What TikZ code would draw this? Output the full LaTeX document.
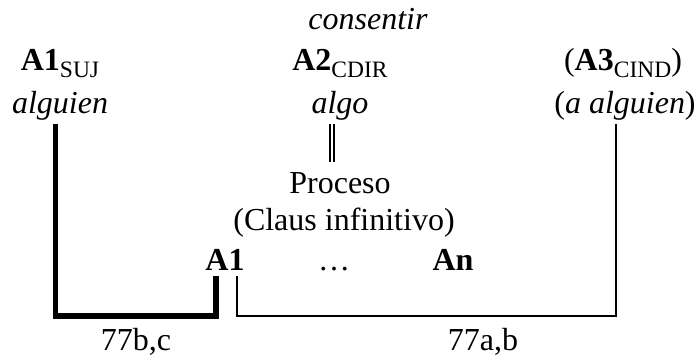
\documentclass[tikz,border=0pt]{standalone}
\usepackage{fontspec}
\setmainfont{Liberation Serif}
% subscript label set in regular weight below the baseline
\newcommand\argsub[1]{\raisebox{-7.5pt}{\fontsize{23.5}{24}\selectfont\mdseries #1}}
\tikzset{
  lbl/.style={anchor=base, inner sep=0pt, outer sep=0pt, font=\fontsize{32}{38}\selectfont},
  heavy/.style={line width=5.2pt, line cap=butt, line join=miter},
  light/.style={line width=2pt, line join=miter},
  thinrule/.style={line width=1.1pt}
}
\begin{document}
\begin{tikzpicture}[x=1pt, y=-1pt]
\useasboundingbox (0,0) rectangle (697,356);
% verb
\node[lbl] (verb) at (368,29) {\itshape consentir};
% arguments
\node[lbl] (a1) at (60,70) {\textbf{A1}\argsub{SUJ}};
\node[lbl] (a2) at (340,70) {\textbf{A2}\argsub{CDIR}};
\node[lbl] (a3) at (623,70) {(\textbf{A3}\argsub{CIND})};
\node[lbl] (g1) at (60,113) {\itshape alguien};
\node[lbl] (g2) at (340,113) {\itshape algo};
\node[lbl] (g3) at (625,113) {(\textit{a alguien})};
% embedded process
\node[lbl] (proc) at (340,193) {Proceso};
\node[lbl] (claus) at (344,230) {(Claus infinitivo)};
\node[lbl] (b1) at (225,270) {\textbf{A1}};
\node[lbl] (dots) at (334,270) {\dots};
\node[lbl] (bn) at (453,270) {\textbf{An}};
% example references
\node[lbl] (r1) at (136,350) {77b,c};
\node[lbl] (r2) at (483,350) {77a,b};
% line ends
\coordinate (low) at (0,316);
\coordinate (g1d) at ([shift={(-4.5,4)}]g1.south);
\coordinate (g3d) at ([shift={(-9,4)}]g3.south);
\coordinate (b1l) at ([shift={(-9,6)}]b1.south);
\coordinate (b1r) at ([shift={(12,6)}]b1.south);
% A2 linked to the process by a double rule
\draw[thinrule] ([shift={(-10,4)}]g2.south) -- ([shift={(-10,-10)}]proc.north);
\draw[thinrule] ([shift={(-6,4)}]g2.south) -- ([shift={(-6,-10)}]proc.north);
% A1 of the main verb controls A1 of the clause
\draw[heavy] (g1d) |- (b1l |- low) -- (b1l);
% A3 linked to A1 of the clause
\draw[light] (b1r) -- (b1r |- low) -| (g3d);
\end{tikzpicture}
\end{document}
